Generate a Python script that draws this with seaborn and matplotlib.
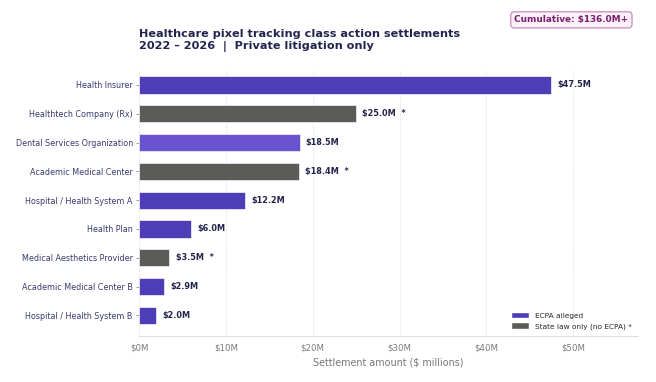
import matplotlib.pyplot as plt
import seaborn as sns
import pandas as pd
from matplotlib.patches import Patch

defendants = [
    'Health Insurer', 'Healthtech Company (Rx)', 'Dental Services Organization',
    'Academic Medical Center', 'Hospital / Health System A', 'Health Plan',
    'Medical Aesthetics Provider', 'Academic Medical Center B', 'Hospital / Health System B',
]
amounts = [47.5, 25.0, 18.5, 18.4, 12.2, 6.0, 3.5, 2.9, 2.0]
ecpa = [True, False, True, False, True, True, False, True, True]
x_ticks = [0, 10, 20, 30, 40, 50]

PURPLE = '#4d3db7'
PURPLE_LIGHT = '#6a53d1'
GREY = '#5b5b58'
NAVY = '#23234d'

df = pd.DataFrame({'defendant': defendants, 'amount': amounts, 'ecpa': ecpa})
colors = []
for name, e in zip(defendants, ecpa):
    if not e:
        colors.append(GREY)
    elif name == 'Dental Services Organization':
        colors.append(PURPLE_LIGHT)
    else:
        colors.append(PURPLE)

sns.set_theme(style='white')
plt.rcParams['font.family'] = ['DejaVu Sans']

fig = plt.figure(figsize=(6.56, 3.82), dpi=100)
ax = fig.add_axes([0.212, 0.12, 0.761, 0.697])

sns.barplot(data=df, x='amount', y='defendant', hue='defendant',
            palette=colors, legend=False, width=0.6, ax=ax, saturation=1,
            edgecolor='#e8e6f5', linewidth=0.6)

for i, (v, e) in enumerate(zip(amounts, ecpa)):
    label = f'${v:.1f}M' + ('  *' if not e else '')
    ax.text(v + 0.7, i, label, va='center', ha='left', fontsize=5.9,
            fontweight='bold', color=NAVY)

ax.set_xlim(0, 57.5)
ax.set_ylim(8.72, -0.52)
ax.set_xticks(x_ticks)
ax.set_xticklabels([f'${t}M' for t in x_ticks])
ax.tick_params(axis='x', labelsize=6.2, colors='#7a7a7a', length=2, width=0.5, pad=3)
ax.tick_params(axis='y', labelsize=5.8, labelcolor='#3a3a6e', length=2.5,
               width=0.6, color='#888888', left=True, pad=2)
ax.set_xlabel('Settlement amount ($ millions)', fontsize=6.9, color='#777777', labelpad=4)
ax.set_ylabel('')
ax.xaxis.grid(True, linestyle=':', color='#d8d8d8', linewidth=0.7)
ax.set_axisbelow(True)
for s in ['top', 'right', 'left']:
    ax.spines[s].set_visible(False)
ax.spines['bottom'].set_color('#dddddd')
ax.spines['bottom'].set_linewidth(0.7)

fig.text(0.212, 0.865, 'Healthcare pixel tracking class action settlements\n'
         '2022 \u2013 2026  |  Private litigation only',
         fontsize=8.1, fontweight='bold', color=NAVY, ha='left', va='bottom',
         linespacing=1.2)

fig.text(0.958, 0.948, 'Cumulative: $136.0M+', fontsize=6.4, fontweight='bold',
         color='#7a1f6e', ha='right', va='center',
         bbox=dict(boxstyle='round,pad=0.4', facecolor='#fcf0f9',
                   edgecolor='#c98bbd', linewidth=0.9))

handles = [Patch(facecolor=PURPLE, label='ECPA alleged'),
           Patch(facecolor=GREY, label='State law only (no ECPA) *')]
ax.legend(handles=handles, loc='lower right', frameon=False, fontsize=5.3,
          handlelength=2.4, handleheight=0.9, bbox_to_anchor=(1.0, 0.0))

fig.savefig('out.png', dpi=100)
